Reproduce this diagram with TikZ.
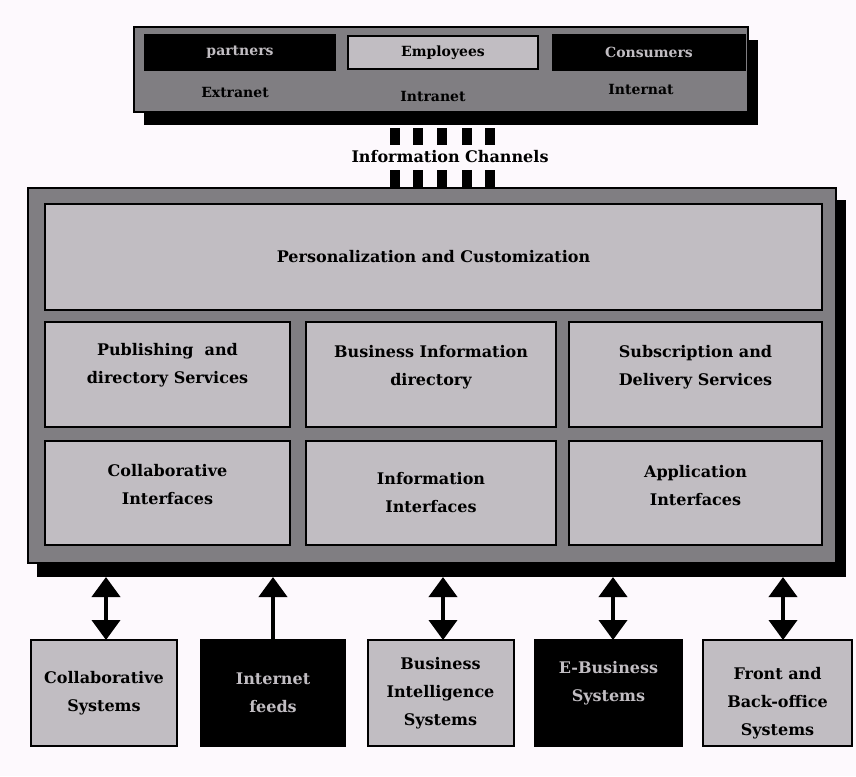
\documentclass[tikz,border=0pt]{standalone}
\usepackage{fontspec}
\setmainfont{DejaVu Serif}
\usetikzlibrary{arrows.meta}
\definecolor{fondo}{HTML}{FDF9FD}
\definecolor{gris}{HTML}{807E82}
\definecolor{grisclaro}{HTML}{C1BDC2}
\def\px{0.75pt}
\def\letra{\bfseries\fontsize{12}{21}\selectfont}
\def\letrachica{\bfseries\fontsize{10.5}{13}\selectfont}
% puntales para subir o bajar el texto dentro de una caja
\newcommand\subir[1]{\rule[-#1]{0pt}{0pt}}
\newcommand\bajar[1]{\rule{0pt}{#1}}
\tikzset{
  panel/.style={draw=black,line width=1.5pt,fill=gris,outer sep=0pt},
  sombra/.style={fill=black,outer sep=0pt},
  caja/.style={draw=black,line width=2.2pt,fill=grisclaro,outer sep=0pt,align=center,font=\letra},
  cajanegra/.style={draw=black,line width=1.2pt,fill=black,text=grisclaro,outer sep=0pt,align=center,font=\letra},
  sistema/.style={draw=black,line width=1.5pt,fill=grisclaro,outer sep=0pt,align=center,font=\letra,minimum width=146*\px,minimum height=106*\px},
  flecha/.style={line width=3pt,-{Triangle[width=21pt,length=15pt]}},
  dobleflecha/.style={line width=3pt,{Triangle[width=21pt,length=15pt]}-{Triangle[width=21pt,length=15pt]}}
}
\begin{document}
\begin{tikzpicture}[x=0.75pt,y=-0.75pt]
\fill[fondo] (0,0) rectangle (856,776);
\useasboundingbox (0,0) rectangle (856,776);
% panel de usuarios
\node[sombra,minimum width=614*\px,minimum height=85*\px] (topshadow) at (450.5,82) {};
\node[panel,minimum width=614*\px,minimum height=85*\px] (top) at (441,69.5) {};
\node[cajanegra,minimum width=190*\px,minimum height=35*\px,font=\letrachica] (partners) at (240,52.5) {partners};
\node[caja,minimum width=190*\px,minimum height=33*\px,line width=1.5pt,font=\letrachica] (employees) at (443,52.5) {Employees};
\node[cajanegra,minimum width=192*\px,minimum height=35*\px,font=\letrachica] (consumers) at (649,52.5) {Consumers};
\node[font=\letrachica] (extranet) at (235,92) {Extranet};
\node[font=\letrachica] (intranet) at (433,96) {Intranet};
\node[font=\letrachica] (internat) at (641,89) {Internat};
% canales
\foreach \x in {395,418,442,467,490}{
  \draw[line width=7.5pt] (\x,128) -- (\x,145);
  \draw[line width=7.5pt] (\x,170) -- (\x,190);
}
\node[font=\letra,fill=fondo,inner sep=1pt] (canales) at (450,157) {Information Channels};
% panel principal
\node[sombra,minimum width=809*\px,minimum height=377*\px] (mainshadow) at (441.5,388.5) {};
\node[panel,minimum width=808*\px,minimum height=375*\px] (main) at (432,375.5) {};
\node[caja,minimum width=777*\px,minimum height=106*\px] (personal) at (433.5,257) {Personalization and Customization};
\node[caja,minimum width=245*\px,minimum height=105*\px] (publishing) at (167.5,374.5) {Publishing\ \ and\\directory Services\subir{16pt}};
\node[caja,minimum width=250*\px,minimum height=105*\px] (bizinfo) at (431,374.5) {Business Information\\directory\subir{13pt}};
\node[caja,minimum width=253*\px,minimum height=105*\px] (subscription) at (695.5,374.5) {Subscription and\\Delivery Services\subir{13pt}};
\node[caja,minimum width=245*\px,minimum height=104*\px] (collabint) at (167.5,493) {Collaborative\\Interfaces\subir{13pt}};
\node[caja,minimum width=250*\px,minimum height=104*\px] (infoint) at (431,493) {Information\\Interfaces};
\node[caja,minimum width=253*\px,minimum height=104*\px] (appint) at (695.5,493) {Application\\Interfaces\subir{11pt}};
% sistemas
\node[sistema] (collabsys) at (104,693) {Collaborative\\Systems};
\node[sistema,cajanegra,minimum width=144*\px,minimum height=106*\px] (feeds) at (273,693) {Internet\\feeds};
\node[sistema] (bisys) at (440.5,693) {Business\\Intelligence\\Systems};
\node[sistema,cajanegra,minimum width=147*\px,minimum height=106*\px] (ebiz) at (608.5,693) {E-Business\\Systems\subir{18pt}};
\node[sistema,minimum width=149*\px] (frontback) at (777.5,693) {\bajar{24pt}Front and\\Back-office\\Systems};
% flechas
\draw[dobleflecha] (collabsys.north -| 106,0) -- (106,577);
\draw[flecha] (feeds.north) -- (feeds.north |- mainshadow.south);
\draw[dobleflecha] (bisys.north -| 443,0) -- (443,577);
\draw[dobleflecha] (ebiz.north -| 613,0) -- (613,577);
\draw[dobleflecha] (frontback.north -| 783,0) -- (783,577);
\end{tikzpicture}
\end{document}
